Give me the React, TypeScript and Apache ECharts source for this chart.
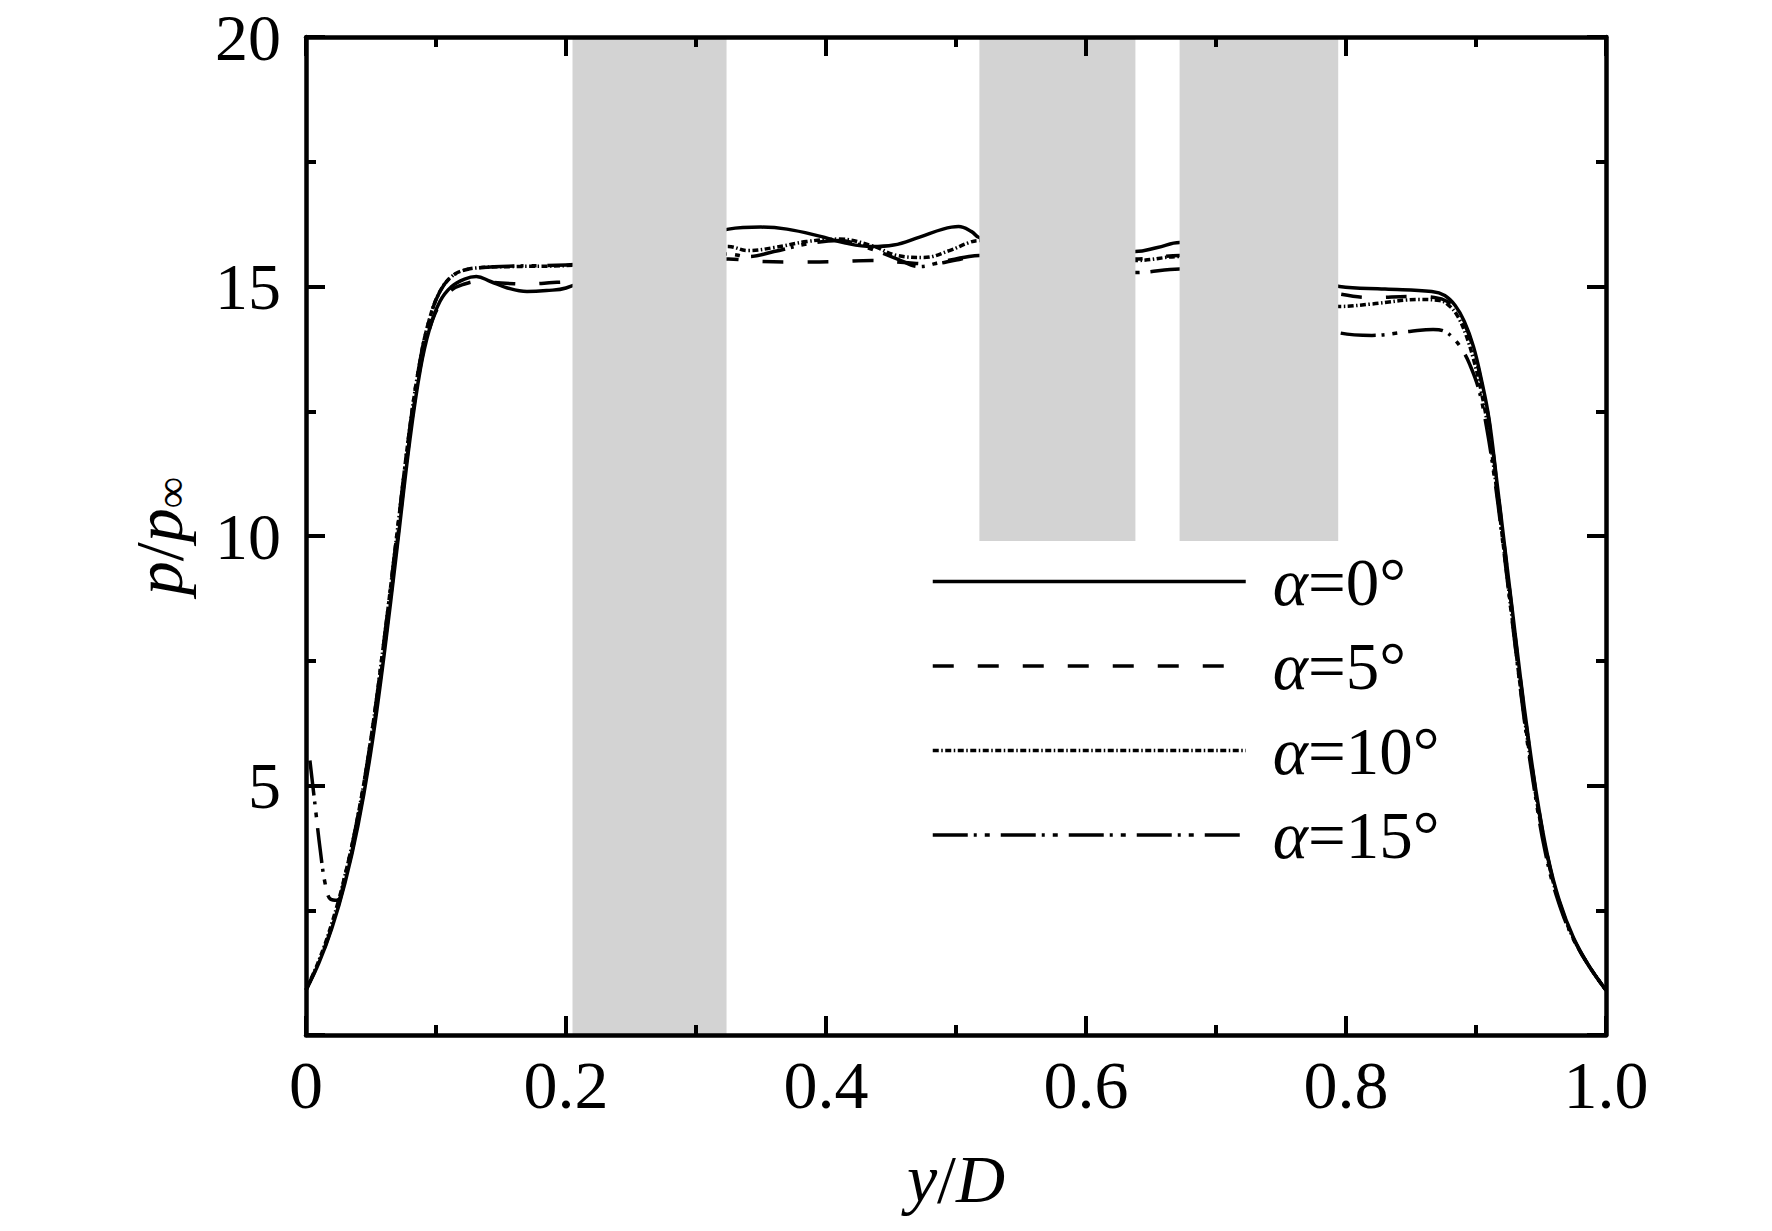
import React, { useEffect, useRef } from "react";
import * as echarts from "echarts";

const FONT = '"Liberation Serif", "Times New Roman", serif';

const xTicks = [0, 0.2, 0.4, 0.6, 0.8, 1.0];
const yTicks = [0, 5, 10, 15, 20];

// shaded regions: [x0, x1, y0, y1]
const bands = [
  [0.205, 0.3235, 0, 20],
  [0.518, 0.638, 9.9, 20],
  [0.672, 0.794, 9.9, 20],
];

const alpha0 = [
  [0, 0.9], [0.01, 1.45], [0.02, 2.15], [0.03, 3.05], [0.04, 4.2], [0.05, 5.7], [0.06, 7.6],
  [0.07, 9.75], [0.08, 11.95], [0.088, 13.35], [0.095, 14.15], [0.103, 14.7], [0.112, 15.0], [0.122, 15.15],
  [0.131, 15.2], [0.142, 15.1], [0.155, 14.97], [0.17, 14.9], [0.185, 14.92], [0.2, 14.97], [0.26, 15.6],
  [0.325, 16.15], [0.35, 16.19], [0.37, 16.15], [0.395, 16.01], [0.415, 15.87], [0.435, 15.8], [0.452, 15.83],
  [0.472, 15.99], [0.49, 16.15], [0.502, 16.2], [0.512, 16.1], [0.518, 15.98], [0.58, 15.7], [0.638, 15.7],
  [0.655, 15.78], [0.672, 15.88], [0.73, 15.5], [0.795, 15.0], [0.83, 14.95], [0.866, 14.9], [0.876, 14.82],
  [0.884, 14.62], [0.891, 14.3], [0.898, 13.8], [0.904, 13.15], [0.91, 12.35], [0.916, 11.1], [0.922, 9.8],
  [0.928, 8.5], [0.934, 7.2], [0.94, 6.0], [0.947, 4.75], [0.955, 3.6], [0.964, 2.7], [0.975, 1.95],
  [0.987, 1.38], [1.0, 0.9],
];

const alpha5 = [
  [0, 0.9], [0.01, 1.47], [0.02, 2.18], [0.03, 3.1], [0.04, 4.27], [0.05, 5.8], [0.06, 7.7],
  [0.07, 9.85], [0.08, 12.03], [0.088, 13.4], [0.095, 14.15], [0.103, 14.65], [0.112, 14.93], [0.122, 15.05],
  [0.132, 15.1], [0.15, 15.07], [0.17, 15.05], [0.19, 15.08], [0.2, 15.1], [0.26, 15.35], [0.325, 15.55],
  [0.35, 15.5], [0.38, 15.49], [0.41, 15.5], [0.435, 15.52], [0.46, 15.48], [0.48, 15.45], [0.5, 15.53],
  [0.518, 15.62], [0.58, 15.6], [0.638, 15.55], [0.672, 15.62], [0.73, 15.2], [0.795, 14.85], [0.82, 14.78],
  [0.85, 14.8], [0.868, 14.78], [0.878, 14.7], [0.885, 14.52], [0.892, 14.2], [0.898, 13.75], [0.904, 13.1],
  [0.91, 12.3], [0.916, 11.05], [0.922, 9.75], [0.928, 8.45], [0.934, 7.15], [0.94, 5.95], [0.947, 4.72],
  [0.955, 3.58], [0.964, 2.68], [0.975, 1.94], [0.987, 1.38], [1.0, 0.9],
];

const alpha10 = [
  [0, 0.9], [0.01, 1.5], [0.02, 2.25], [0.03, 3.2], [0.04, 4.4], [0.05, 5.95], [0.06, 7.9],
  [0.07, 10.05], [0.08, 12.2], [0.088, 13.55], [0.095, 14.35], [0.103, 14.9], [0.112, 15.2], [0.122, 15.33],
  [0.135, 15.38], [0.16, 15.4], [0.2, 15.42], [0.26, 15.6], [0.325, 15.8], [0.34, 15.72], [0.36, 15.78],
  [0.385, 15.9], [0.41, 15.95], [0.435, 15.82], [0.455, 15.62], [0.475, 15.58], [0.495, 15.72], [0.51, 15.88],
  [0.518, 15.92], [0.58, 15.7], [0.638, 15.52], [0.672, 15.6], [0.73, 15.1], [0.795, 14.6], [0.82, 14.65],
  [0.857, 14.74], [0.872, 14.72], [0.88, 14.6], [0.886, 14.4], [0.892, 14.05], [0.898, 13.55], [0.904, 12.9],
  [0.91, 12.05], [0.916, 10.9], [0.922, 9.6], [0.928, 8.3], [0.934, 7.0], [0.94, 5.85], [0.947, 4.65],
  [0.955, 3.55], [0.964, 2.66], [0.975, 1.93], [0.987, 1.38], [1.0, 0.9],
];

const alpha15 = [
  [0.003, 5.5], [0.007, 4.6], [0.011, 3.7], [0.015, 3.0], [0.019, 2.72], [0.024, 2.7], [0.03, 3.2],
  [0.04, 4.4], [0.05, 5.95], [0.06, 7.9], [0.07, 10.05], [0.08, 12.2], [0.088, 13.55], [0.095, 14.35],
  [0.103, 14.9], [0.112, 15.2], [0.122, 15.33], [0.135, 15.38], [0.16, 15.41], [0.2, 15.43], [0.26, 15.55],
  [0.325, 15.65], [0.34, 15.6], [0.36, 15.7], [0.385, 15.85], [0.41, 15.92], [0.435, 15.75], [0.455, 15.55],
  [0.472, 15.4], [0.49, 15.5], [0.51, 15.6], [0.518, 15.62], [0.58, 15.4], [0.638, 15.28], [0.672, 15.35],
  [0.73, 14.7], [0.795, 14.07], [0.82, 14.02], [0.849, 14.1], [0.867, 14.14], [0.876, 14.1], [0.883, 13.95],
  [0.889, 13.75], [0.895, 13.45], [0.902, 12.95], [0.908, 12.2], [0.914, 11.2], [0.92, 10.0], [0.926, 8.7],
  [0.932, 7.4], [0.938, 6.15], [0.945, 4.9], [0.953, 3.7], [0.962, 2.78], [0.974, 1.97], [0.987, 1.38],
  [1.0, 0.9],
];

const seriesNames = ["α=0°", "α=5°", "α=10°", "α=15°"];
const seriesData = [alpha0, alpha5, alpha10, alpha15];
const dashes: any[] = ["solid", [21, 24], [6, 2.5, 1.5, 2.5], [35, 6, 3, 8, 5, 11]];

export default function App() {
  const ref = useRef<HTMLDivElement>(null);
  useEffect(() => {
    if (!ref.current) return;
    const chart = echarts.init(ref.current, undefined, { renderer: "svg" });
    const axisCommon = (min: number, max: number, interval: number) => ({
      type: "value",
      min,
      max,
      interval,
      z: 10,
      axisLine: { show: true, onZero: false, lineStyle: { color: "#000", width: 4.5 } },
      axisTick: { show: true, inside: true, length: 19, lineStyle: { color: "#000", width: 4 } },
      minorTick: { show: true, splitNumber: 2, length: 10, lineStyle: { color: "#000", width: 4 } },
      splitLine: { show: false },
      minorSplitLine: { show: false },
    });
    const fmtX = (v: number) => {
      const t = xTicks.find((k) => Math.abs(k - v) < 1e-6);
      if (t === undefined) return "";
      return t === 0 ? "0" : t.toFixed(1);
    };
    const fmtY = (v: number) => {
      const t = yTicks.find((k) => Math.abs(k - v) < 1e-6);
      return t === undefined ? "" : String(t);
    };
    const option: any = {
      animation: false,
      backgroundColor: "#fff",
      grid: { left: 306, top: 37, width: 1300, height: 998, containLabel: false },
      legend: {
        orient: "vertical",
        left: 931,
        top: 548,
        padding: 0,
        itemWidth: 313,
        itemHeight: 20,
        itemGap: 17.5,
        selectedMode: false,
        itemStyle: { opacity: 0, borderWidth: 0 },
        lineStyle: { width: 3.5 },
        formatter: (name: string) => `{a|α}{b|${name.slice(1)}}`,
        textStyle: {
          fontFamily: FONT,
          fontSize: 67,
          color: "#000",
          padding: [0, 0, 0, 22],
          rich: {
            a: { fontFamily: FONT, fontSize: 67, fontStyle: "italic", color: "#000" },
            b: { fontFamily: FONT, fontSize: 67, color: "#000" },
          },
        },
        data: seriesNames,
      },
      xAxis: [
        {
          ...axisCommon(0, 1, 0.2),
          position: "bottom",
          axisLabel: {
            show: true,
            margin: 16,
            fontFamily: FONT,
            fontSize: 68,
            color: "#000",
            formatter: fmtX,
          },
          name: "{i|y}/{i|D}",
          nameLocation: "middle",
          nameGap: 110,
          nameTextStyle: {
            fontFamily: FONT,
            fontSize: 68,
            color: "#000",
            rich: { i: { fontFamily: FONT, fontSize: 68, fontStyle: "italic", color: "#000" } },
          },
        },
        {
          ...axisCommon(0, 1, 0.2),
          position: "top",
          axisLabel: { show: false },
        },
      ],
      yAxis: [
        {
          ...axisCommon(0, 20, 5),
          position: "left",
          axisLabel: {
            show: true,
            margin: 25,
            showMinLabel: false,
            fontFamily: FONT,
            fontSize: 66,
            lineHeight: 54,
            color: "#000",
            formatter: fmtY,
          },
          name: "{i|p}/{i|p}{s|∞}",
          nameLocation: "middle",
          nameGap: 113,
          nameTextStyle: {
            fontFamily: FONT,
            fontSize: 68,
            color: "#000",
            rich: {
              i: { fontFamily: FONT, fontSize: 68, fontStyle: "italic", color: "#000", lineHeight: 68 },
              s: { fontFamily: FONT, fontSize: 44, color: "#000", verticalAlign: "bottom", lineHeight: 28 },
            },
          },
        },
        {
          ...axisCommon(0, 20, 5),
          position: "right",
          axisLabel: { show: false },
        },
      ],
      series: [
        ...seriesData.map((d, i) => ({
          name: seriesNames[i],
          type: "line",
          xAxisIndex: 0,
          yAxisIndex: 0,
          data: d,
          showSymbol: false,
          symbol: "none",
          smooth: 0.4,
          clip: true,
          z: 2,
          itemStyle: { color: "#000" },
          lineStyle: { color: "#000", width: 3.5, type: dashes[i] },
        })),
        {
          name: "bands",
          type: "custom",
          xAxisIndex: 0,
          yAxisIndex: 0,
          z: 5,
          silent: true,
          data: bands,
          encode: { x: [0, 1], y: [2, 3] },
          renderItem: (_p: any, api: any) => {
            const a = api.coord([api.value(0), api.value(3)]);
            const b = api.coord([api.value(1), api.value(2)]);
            return {
              type: "rect",
              shape: { x: a[0], y: a[1], width: b[0] - a[0], height: b[1] - a[1] },
              style: { fill: "#d3d3d3" },
            };
          },
        },
      ],
    };
    chart.setOption(option);
    return () => chart.dispose();
  }, []);
  return (
    <div
      ref={ref}
      style={{ position: "fixed", left: 0, top: 0, width: 1772, height: 1231, background: "#fff" }}
    />
  );
}
